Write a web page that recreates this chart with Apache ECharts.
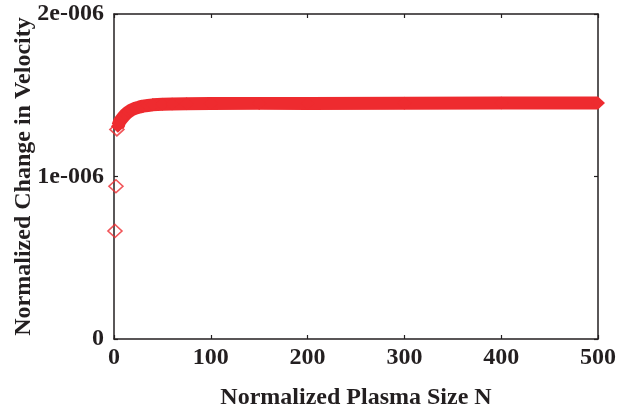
<!DOCTYPE html>
<html>
<head>
<meta charset="utf-8">
<script src="https://cdn.jsdelivr.net/npm/echarts@6/dist/echarts.min.js"></script>
<style>
  html, body { margin: 0; padding: 0; background: #fff; }
  #chart { width: 641px; height: 412px; }
</style>
</head>
<body>
<div id="chart"></div>
<script>
// first few sizes, drawn as separate open diamonds
var earlyN = [1, 2, 3];
var earlyV = [0.665e-6, 0.94e-6, 1.29e-6];

// the dense run of points that forms the thick band
var bandN = [4, 5, 6, 8, 10, 12, 15, 18, 22, 26, 30, 35, 40, 50, 60, 75, 100, 150, 200, 300, 400, 500];
var bandV = [1.31e-6, 1.325e-6, 1.34e-6, 1.355e-6, 1.37e-6, 1.383e-6, 1.398e-6, 1.41e-6, 1.42e-6, 1.427e-6,
             1.433e-6, 1.437e-6, 1.441e-6, 1.444e-6, 1.446e-6, 1.447e-6, 1.449e-6, 1.45e-6, 1.45e-6,
             1.451e-6, 1.452e-6, 1.452e-6];

var yTickLabels = ['0', '1e-006', '2e-006'];

var RED = '#ee2b2f';
var INK = '#231f20';
var FONT = '"Liberation Serif", "Times New Roman", serif';

function pairs(xs, ys) {
    var out = [];
    for (var i = 0; i < xs.length; i++) {
        out.push([xs[i], ys[i]]);
    }
    return out;
}

var chart = echarts.init(document.getElementById('chart'));

var axisLine = { show: true, onZero: false, lineStyle: { color: INK, width: 1.5 } };
var axisTick = { show: true, inside: true, length: 4, lineStyle: { color: INK, width: 1.2 } };

chart.setOption({
    animation: false,
    backgroundColor: '#fff',
    grid: { left: 114, right: 43, top: 14, bottom: 73, outerBoundsMode: 'none' },
    xAxis: [{
        type: 'value',
        min: 0, max: 500, interval: 100,
        name: 'Normalized Plasma Size N',
        nameLocation: 'middle',
        nameGap: 47,
        nameMoveOverlap: false,
        nameTextStyle: { fontFamily: FONT, fontWeight: 'bold', fontSize: 24, color: INK },
        axisLine: axisLine,
        axisTick: axisTick,
        splitLine: { show: false },
        axisLabel: { margin: 7, fontFamily: FONT, fontWeight: 'bold', fontSize: 24, color: INK }
    }, {
        type: 'value', position: 'top',
        min: 0, max: 500, interval: 100,
        axisLine: axisLine,
        axisTick: axisTick,
        splitLine: { show: false },
        axisLabel: { show: false }
    }],
    yAxis: [{
        type: 'value',
        min: 0, max: 2e-6, interval: 1e-6,
        name: 'Normalized Change in Velocity',
        nameLocation: 'middle',
        nameGap: 78,
        nameMoveOverlap: false,
        nameTextStyle: { fontFamily: FONT, fontWeight: 'bold', fontSize: 24, color: INK },
        axisLine: axisLine,
        axisTick: axisTick,
        splitLine: { show: false },
        axisLabel: {
            margin: 10, fontFamily: FONT, fontWeight: 'bold', fontSize: 24, color: INK,
            formatter: function (v, i) { return yTickLabels[i]; }
        }
    }, {
        type: 'value', position: 'right',
        min: 0, max: 2e-6, interval: 1e-6,
        axisLine: axisLine,
        axisTick: axisTick,
        splitLine: { show: false },
        axisLabel: { show: false }
    }],
    series: [{
        type: 'scatter',
        data: pairs(earlyN, earlyV),
        symbol: 'diamond',
        symbolSize: [14, 13],
        itemStyle: { color: 'rgba(0,0,0,0)', borderColor: RED, borderWidth: 1.6 },
        z: 1
    }, {
        type: 'line',
        data: pairs(bandN, bandV),
        symbol: 'diamond',
        symbolSize: [14, 13],
        showAllSymbol: true,
        lineStyle: { color: RED, width: 13, join: 'round', cap: 'butt' },
        itemStyle: { color: RED, borderWidth: 0 },
        z: 2
    }]
});
</script>
</body>
</html>
